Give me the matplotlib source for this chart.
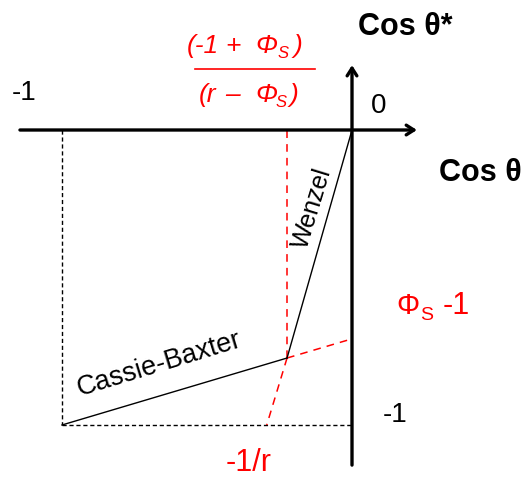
import matplotlib
matplotlib.use("Agg")
import matplotlib.pyplot as plt

plt.rcParams['font.family'] = ['Liberation Sans', 'DejaVu Sans']

# values (cos theta, cos theta*)
kink = (-0.224, -0.773)          # where Wenzel and Cassie-Baxter meet
wenzel_x = [kink[0], 0.0]
wenzel_y = [kink[1], 0.0]
cassie_x = [-1.0, kink[0]]
cassie_y = [-1.0, kink[1]]
minus_inv_r = -0.294              # Wenzel line extended to cos theta* = -1
phi_minus_one = -0.708            # Cassie-Baxter line extended to cos theta = 0

fig = plt.figure(figsize=(5.26, 4.79), dpi=100)
ax = fig.add_axes([0, 0, 1, 1])
ax.set_xlim(-1.2138, 0.6)
ax.set_ylim(-1.1831, 0.4407)
ax.axis('off')

# axes with open arrow heads
arrow = dict(arrowstyle='->,head_length=0.55,head_width=0.35', lw=2.4, color='black',
             shrinkA=0, shrinkB=0)
ax.annotate('', xy=(0.224, 0), xytext=(-1.145, 0), arrowprops=arrow)
ax.annotate('', xy=(0, 0.22), xytext=(0, -1.136), arrowprops=arrow)

# black dashed frame
ax.plot([-1, -1], [0, -1], color='black', lw=1, ls=(0, (3, 2)))
ax.plot([-1, 0], [-1, -1], color='black', lw=1, ls=(0, (3, 2)))

# red dashed construction lines
red_dash = dict(color='red', lw=1.1, ls=(0, (5, 4)))
ax.plot([kink[0], kink[0]], [kink[1], 0.0], **red_dash)
ax.plot([kink[0], minus_inv_r], [kink[1], -1.0], **red_dash)
ax.plot([kink[0], 0.0], [kink[1], phi_minus_one], **red_dash)

# the two wetting regimes
ax.plot(cassie_x, cassie_y, color='black', lw=1)
ax.plot(wenzel_x, wenzel_y, color='black', lw=1)

ax.text(-0.138, -0.264, 'Wenzel', fontsize=18, rotation=73, ha='center', va='center')
ax.text(-0.666, -0.795, 'Cassie-Baxter', fontsize=19.5, rotation=17, ha='center', va='center')

# axis labels and values
ax.text(-1.129, 0.124, '-1', fontsize=20, ha='center', va='center')
ax.text(0.093, 0.081, '0', fontsize=20, ha='center', va='center')
ax.text(0.148, -0.966, '-1', fontsize=20, ha='center', va='center')
ax.text(0.183, 0.349, 'Cos θ*', fontsize=22, fontweight='bold', ha='center', va='center')
ax.text(0.441, -0.146, 'Cos θ', fontsize=22, fontweight='bold', ha='center', va='center')
ax.text(-0.355, -1.129, '-1/r', fontsize=22, color='red', ha='center', va='center')


def pieces(items, color='red', style='normal'):
    # text built from pieces so the subscript S sits low and small
    for x, y, s, size in items:
        ax.text(x, y, s, fontsize=size, color=color, fontstyle=style,
                ha='left', va='baseline')


# Phi_S - 1 on the cos theta* axis
pieces([(0.152, -0.624, 'Φ', 21),
        (0.234, -0.645, 'S', 14),
        (0.313, -0.624, '-1', 22)])

# intersection abscissa (-1 + Phi_S) / (r - Phi_S)
pieces([(-0.569, 0.261, '(-1', 19),
        (-0.438, 0.261, '+', 19),
        (-0.334, 0.261, 'Φ', 19),
        (-0.257, 0.243, 'S', 12),
        (-0.200, 0.261, ')', 19)], style='italic')
pieces([(-0.528, 0.095, '(r', 19),
        (-0.438, 0.095, '–', 19),
        (-0.334, 0.095, 'Φ', 19),
        (-0.262, 0.077, 'S', 12),
        (-0.214, 0.095, ')', 19)], style='italic')
ax.plot([-0.541, -0.128], [0.207, 0.207], color='red', lw=1.2)

fig.savefig('out.png', dpi=100)
